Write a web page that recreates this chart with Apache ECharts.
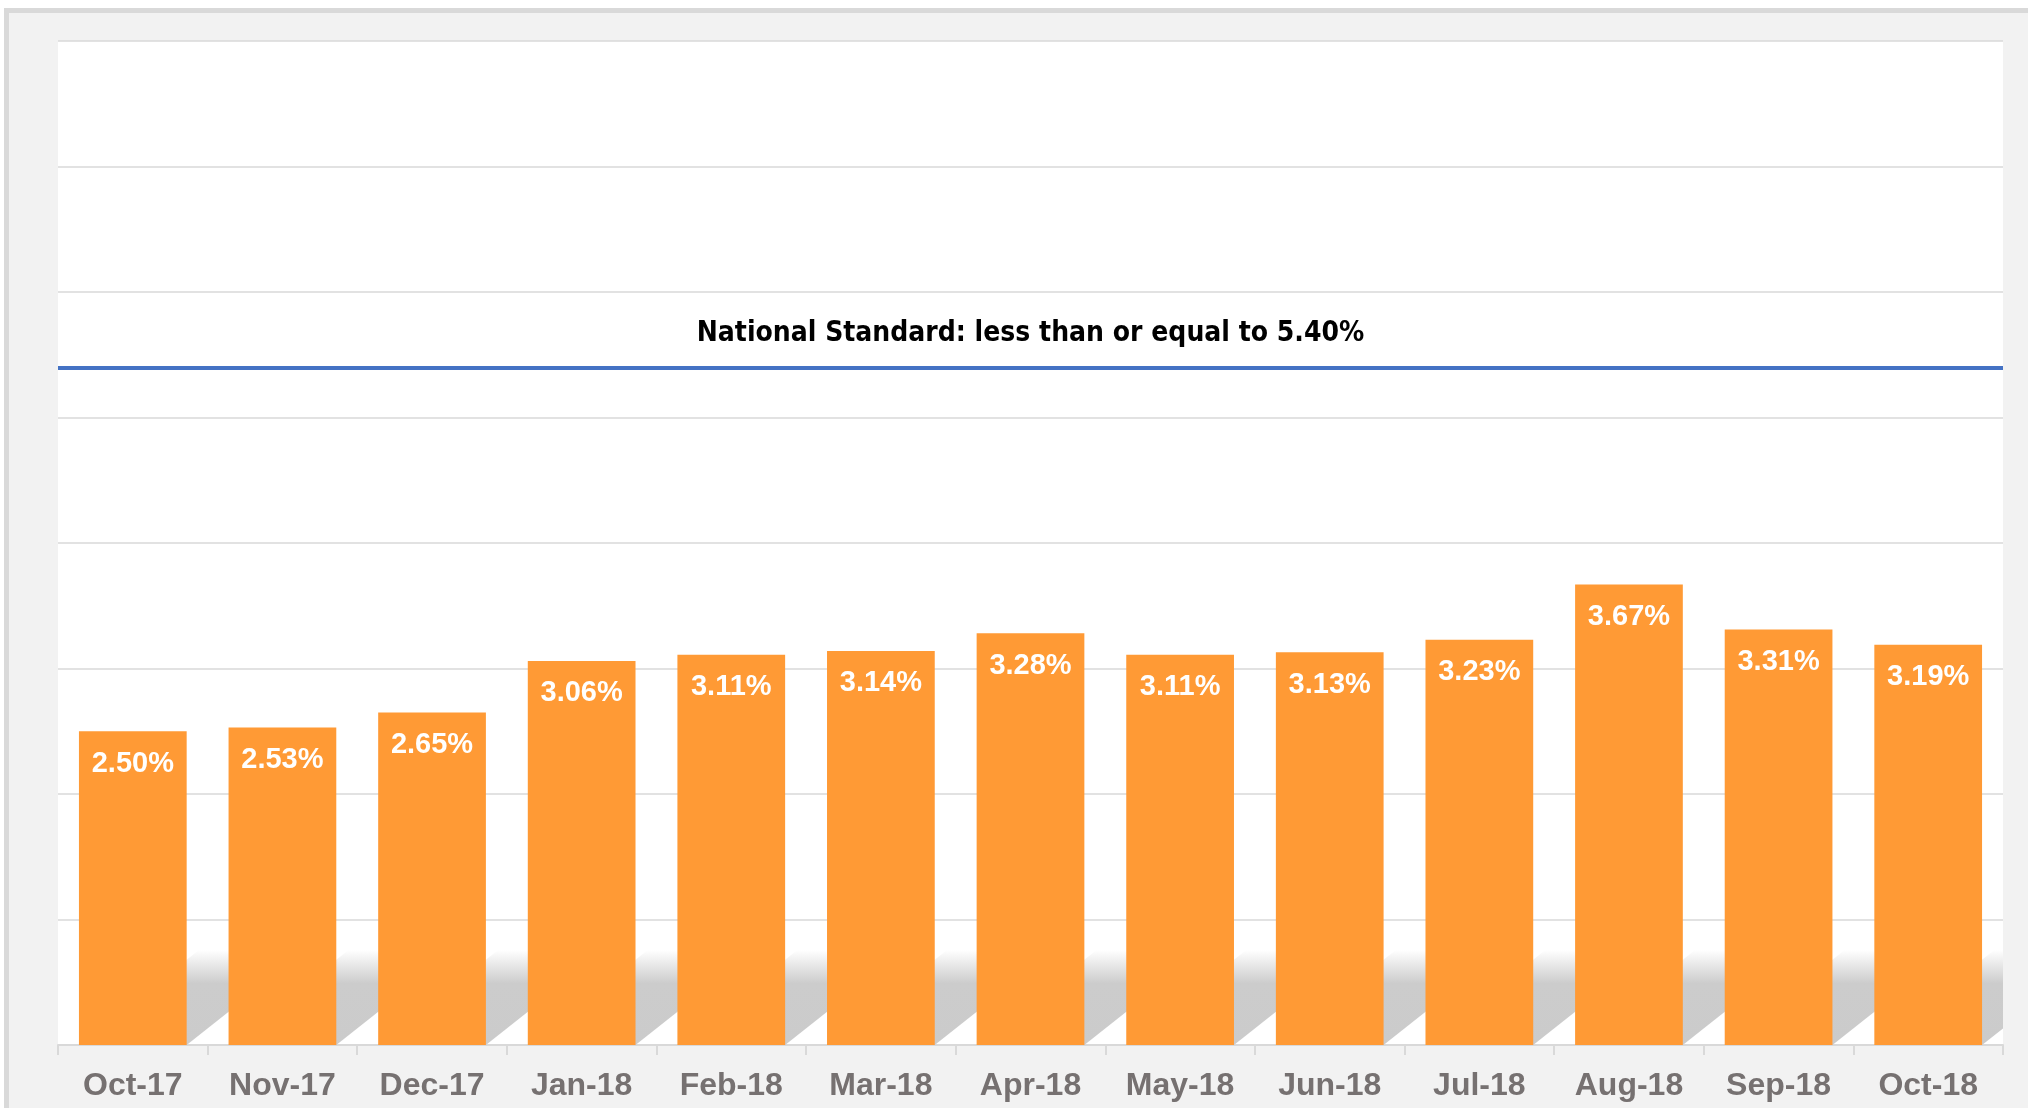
<!DOCTYPE html>
<html>
<head>
<meta charset="utf-8">
<script src="https://cdn.jsdelivr.net/npm/echarts@6/dist/echarts.min.js"></script>
<style>
  html, body { margin: 0; padding: 0; background: #fff; }
  #frame {
    position: absolute; left: 4px; top: 8px; width: 2100px; height: 1200px;
    background: #f2f2f2; border-top: 5px solid #d9d9d9; border-left: 5px solid #d9d9d9;
  }
  #chart { position: absolute; left: 0; top: 0; width: 2028px; height: 1108px; }
</style>
</head>
<body>
<div id="frame"></div>
<div id="chart"></div>
<script>
// months and rates (%)
var months = ['Oct-17', 'Nov-17', 'Dec-17', 'Jan-18', 'Feb-18', 'Mar-18', 'Apr-18',
              'May-18', 'Jun-18', 'Jul-18', 'Aug-18', 'Sep-18', 'Oct-18'];
var rates = [2.50, 2.53, 2.65, 3.06, 3.11, 3.14, 3.28, 3.11, 3.13, 3.23, 3.67, 3.31, 3.19];
var standardValue = 5.40;
var standardText = 'National Standard: less than or equal to 5.40%';
var yMin = 0, yMax = 8, yStep = 1;

var chart = echarts.init(document.getElementById('chart'));

// diagonal drop shadow behind each bar (only the part in the gaps shows)
var shDx = 120, shDy = 95, barRatio = 0.72;
function renderShadow(params, api) {
    var base = api.coord([api.value(0), 0]);
    var w = api.size([1, 0])[0] * barRatio;
    var x0 = base[0] - w / 2, x1 = base[0] + w / 2, yb = base[1];
    var right = params.coordSys.x + params.coordSys.width;
    var pts = [[x0, yb], [x1, yb]];
    if (x1 + shDx > right) {
        pts.push([right, yb - (right - x1) * shDy / shDx]);
        pts.push([right, yb - shDy]);
    } else {
        pts.push([x1 + shDx, yb - shDy]);
    }
    pts.push([x0 + shDx, yb - shDy]);
    return {
        type: 'polygon',
        shape: { points: pts },
        style: {
            fill: new echarts.graphic.LinearGradient(0, 0, 0, 1, [
                { offset: 0, color: 'rgba(204,204,204,0)' },
                { offset: 0.35, color: 'rgba(204,204,204,1)' },
                { offset: 1, color: 'rgba(203,203,203,1)' }
            ])
        }
    };
}

var option = {
    animation: false,
    grid: {
        left: 58, right: 25, top: 41, bottom: 63,
        show: true, backgroundColor: '#ffffff', borderWidth: 0
    },
    xAxis: {
        type: 'category',
        data: months,
        axisLine: { lineStyle: { color: '#d9d9d9', width: 2 } },
        axisTick: { show: true, length: 10, lineStyle: { color: '#d9d9d9', width: 2 } },
        axisLabel: {
            color: '#767171', fontSize: 32, fontWeight: 'bold',
            fontFamily: 'Liberation Sans, Arial, sans-serif', margin: 25
        }
    },
    yAxis: {
        type: 'value',
        min: yMin, max: yMax, interval: yStep,
        axisLabel: { show: false },
        axisLine: { show: false },
        axisTick: { show: false },
        splitLine: { lineStyle: { color: '#d9d9d9', width: 1.5 } }
    },
    series: [
        {
            type: 'custom',
            z: 1,
            renderItem: renderShadow,
            data: rates.map(function (v, i) { return [i, v]; }),
            silent: true
        },
        {
            type: 'bar',
            z: 3,
            data: rates,
            barCategoryGap: '28%',
            itemStyle: { color: '#FF9A35' },
            label: {
                show: true,
                position: 'insideTop',
                distance: 18,
                color: '#ffffff',
                fontSize: 29,
                fontWeight: 'bold',
                fontFamily: 'Liberation Sans, Arial, sans-serif',
                formatter: function (p) { return p.value.toFixed(2) + '%'; }
            },
            markLine: {
                silent: true,
                symbol: ['none', 'none'],
                lineStyle: { color: '#4472C4', width: 4, type: 'solid' },
                label: {
                    show: true,
                    position: 'insideMiddleTop',
                    distance: 20,
                    formatter: standardText,
                    color: '#000000',
                    fontSize: 28,
                    fontWeight: 'bold',
                    fontFamily: "'Liberation Sans Narrow', 'Arial Narrow', 'DejaVu Sans Condensed', sans-serif"
                },
                data: [{ yAxis: standardValue }]
            }
        }
    ]
};

chart.setOption(option);
</script>
</body>
</html>
